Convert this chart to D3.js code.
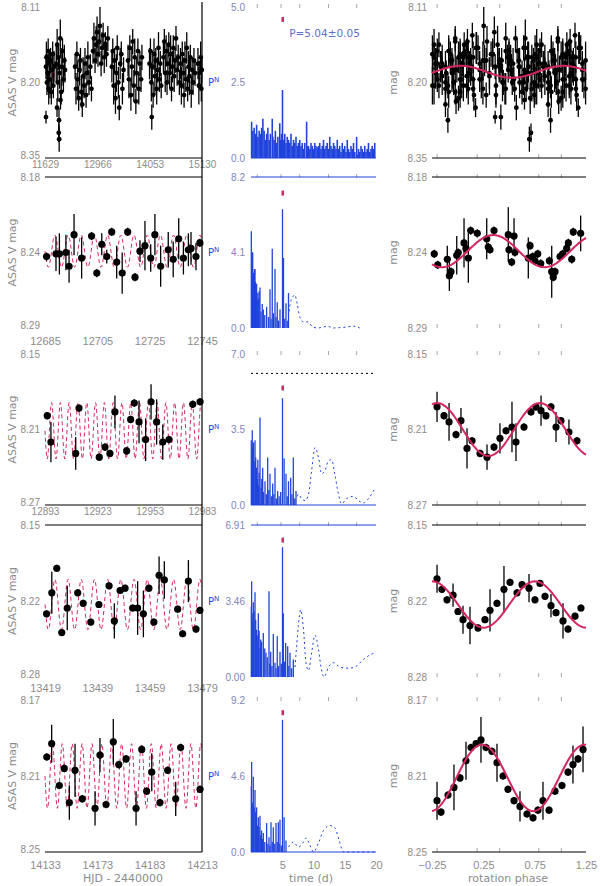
<!DOCTYPE html>
<html lang="en">
<head>
<meta charset="UTF-8">
<title>ASAS V light curves, periodograms and phase plots</title>
<script src="https://d3js.org/d3.v7.min.js"></script>
<style>
  body { margin: 0; background: #fff; }
  svg { display: block; font-family: "DejaVu Sans", sans-serif; }
  .lbl text, .lbl { fill: #8c8c8c; font-size: 10px; }
  .pglbl text { fill: #7d86b8; font-size: 10px; }
  .title { fill: #8c8c8c; font-size: 11px; }
</style>
</head>
<body>
<svg id="chart" width="600" height="886"></svg>
<script>
// ---- shared ----
const period = 5.04;
const foldEpoch = 11629;

// ---- light curves (HJD-2440000, V mag, error) ----
const lcDomX = [[11629, 15130], [12685, 12745], [12893, 12983], [13419, 13479], [14133, 14213]];
const lcXLabels = [
  ["11629", "12966", "14053", "15130"],
  ["12685", "12705", "12725", "12745"],
  ["12893", "12923", "12953", "12983"],
  ["13419", "13439", "13459", "13479"],
  ["14133", "14173", "14183", "14213"]
];
const magDom = [[8.11, 8.35], [8.18, 8.29], [8.15, 8.27], [8.15, 8.28], [8.17, 8.25]];
const magLabels = [
  ["8.11", "8.20", "8.35"],
  ["8.18", "8.24", "8.29"],
  ["8.15", "8.21", "8.27"],
  ["8.15", "8.22", "8.28"],
  ["8.17", "8.21", "8.25"]
];

const lc1 = [
  [11651,8.205,.02],[11660,8.190,.025],[11672,8.230,.02],[11690,8.215,.03],[11700,8.180,.02],[11712,8.240,.025],[11725,8.200,.02],
  [11740,8.225,.03],[11752,8.195,.02],[11770,8.245,.02],[11785,8.210,.025],[11800,8.185,.02],[11815,8.235,.02],[11830,8.205,.025],
  [11651,8.285,.01],[11897,8.270,.015],[11941,8.290,.02],[11935,8.310,.015],[11945,8.320,.02],[11975,8.258,.015],
  [11880,8.200,.03],[11900,8.170,.025],[11915,8.230,.03],[11930,8.190,.02],[11955,8.215,.025],[11970,8.160,.03],[11990,8.245,.02],
  [12005,8.205,.03],[12020,8.180,.02],[12040,8.225,.02],[12060,8.195,.025],[12075,8.210,.02],
  [12300,8.205,.02],[12320,8.240,.025],[12340,8.185,.02],[12360,8.225,.03],[12380,8.255,.02],[12400,8.210,.025],[12420,8.195,.02],
  [12440,8.245,.025],[12460,8.265,.02],[12480,8.220,.03],[12500,8.235,.02],[12520,8.200,.025],[12545,8.250,.02],[12565,8.215,.02],
  [12585,8.190,.025],[12610,8.230,.02],[12640,8.205,.02],[12665,8.240,.02],
  [12700,8.180,.02],[12720,8.160,.025],[12745,8.195,.02],[12770,8.170,.03],[12790,8.150,.025],[12810,8.185,.02],[12835,8.165,.025],
  [12855,8.140,.03],[12880,8.200,.02],[12900,8.175,.025],[12925,8.155,.02],[12950,8.190,.025],[12975,8.170,.02],[13000,8.185,.02],[13030,8.160,.02],
  [13120,8.205,.025],[13140,8.180,.02],[13160,8.235,.03],[13180,8.195,.02],[13200,8.255,.025],[13220,8.215,.03],[13240,8.175,.02],
  [13265,8.230,.025],[13285,8.270,.02],[13305,8.200,.025],[13330,8.185,.02],[13355,8.240,.025],[13380,8.210,.02],
  [13480,8.195,.025],[13500,8.225,.03],[13520,8.175,.02],[13545,8.250,.025],[13565,8.205,.03],[13585,8.165,.02],[13610,8.235,.025],
  [13630,8.190,.03],[13655,8.260,.02],[13675,8.215,.025],[13700,8.180,.02],[13720,8.240,.025],[13745,8.200,.02],[13770,8.225,.02],[13790,8.190,.02],
  [13960,8.200,.025],[13980,8.180,.02],[14000,8.230,.03],[14020,8.205,.025],[14040,8.250,.02],[14060,8.185,.025],[14080,8.220,.03],
  [14100,8.195,.02],[14120,8.240,.025],[14140,8.210,.02],[14160,8.175,.025],[14180,8.225,.02],[14200,8.200,.02],[14220,8.235,.02],[14010,8.285,.02],
  [14270,8.190,.025],[14290,8.165,.02],[14310,8.215,.03],[14330,8.180,.025],[14350,8.230,.02],[14370,8.200,.03],[14390,8.170,.02],
  [14410,8.215,.025],[14430,8.185,.03],[14450,8.240,.02],[14470,8.205,.025],[14490,8.175,.02],[14510,8.220,.025],[14530,8.195,.02],
  [14550,8.160,.02],[14575,8.210,.025],[14600,8.190,.02],[14625,8.230,.02],
  [14650,8.200,.025],[14670,8.235,.03],[14690,8.185,.02],[14710,8.215,.025],[14730,8.250,.02],[14750,8.195,.03],[14770,8.225,.02],
  [14790,8.175,.025],[14810,8.240,.02],[14830,8.205,.025],[14850,8.220,.03],[14870,8.190,.02],[14890,8.245,.025],[14910,8.210,.02],
  [14930,8.230,.02],[14950,8.195,.02],[14975,8.215,.02],
  [15040,8.200,.025],[15060,8.235,.03],[15080,8.215,.02],[15100,8.190,.025],[15115,8.240,.02],[15125,8.210,.02]
];
const lc2 = [
  [12685.6,8.238,.003],[12689.2,8.236,.0125],[12690.5,8.236,.015],[12693.0,8.235,.013],[12694.2,8.245,.012],[12696.1,8.222,.015],
  [12699.0,8.239,.015],[12702.8,8.223,.003],[12704.8,8.250,.003],[12706.7,8.229,.008],[12708.6,8.238,.005],[12710.5,8.220,.003],
  [12712.4,8.242,.012],[12714.5,8.250,.015],[12716.6,8.220,.003],[12719.4,8.253,.003],[12721.3,8.234,.008],[12723.2,8.230,.018],
  [12725.4,8.239,.01],[12727.0,8.222,.015],[12729.2,8.245,.015],[12732.1,8.233,.013],[12734.0,8.240,.013],[12736.1,8.225,.015],
  [12737.9,8.239,.012],[12739.8,8.233,.012],[12740.8,8.232,.012],[12742.7,8.238,.01],[12744.2,8.228,.003]
];
const lc3 = [
  [12894.3,8.199,.003],[12896.4,8.220,.016],[12910.6,8.229,.013],[12912.5,8.193,.003],[12924.1,8.232,.003],[12927.4,8.224,.003],
  [12930.2,8.229,.003],[12933.1,8.196,.013],[12939.8,8.227,.003],[12942.1,8.202,.003],[12944.2,8.189,.003],[12946.9,8.204,.017],
  [12950.7,8.218,.017],[12953.8,8.188,.014],[12957.0,8.204,.018],[12960.5,8.220,.014],[12964.1,8.218,.003],[12977.7,8.190,.003],
  [12981.9,8.188,.003]
];
const lc4 = [
  [13419.6,8.226,.003],[13421.6,8.208,.018],[13423.5,8.187,.003],[13425.4,8.242,.003],[13427.5,8.221,.019],[13431.5,8.208,.003],
  [13433.6,8.217,.003],[13436.5,8.233,.003],[13439.6,8.218,.003],[13443.5,8.202,.003],[13445.5,8.232,.015],[13447.7,8.206,.003],
  [13449.6,8.204,.003],[13452.5,8.221,.003],[13454.4,8.221,.023],[13456.6,8.226,.02],[13458.7,8.204,.003],[13460.6,8.233,.003],
  [13462.6,8.193,.016],[13464.6,8.197,.016],[13469.7,8.222,.003],[13471.6,8.243,.003],[13473.8,8.198,.018],[13476.7,8.239,.003],
  [13478.2,8.223,.003]
];
const lc5 = [
  [14133.9,8.200,.002],[14136.4,8.193,.010],[14140.3,8.215,.002],[14142.8,8.206,.002],[14145.4,8.224,.009],[14148.3,8.207,.014],
  [14152.0,8.222,.002],[14158.5,8.227,.009],[14161.0,8.199,.009],[14164.1,8.225,.002],[14167.8,8.192,.012],[14170.6,8.204,.002],
  [14174.3,8.201,.002],[14179.4,8.227,.009],[14182.3,8.196,.002],[14184.8,8.218,.002],[14187.4,8.208,.010],[14191.6,8.224,.002],
  [14195.5,8.207,.002],[14199.6,8.222,.009],[14202.1,8.195,.002],[14212.0,8.217,.002]
];
// sine fit drawn over the light curve: [mean mag, semi-amplitude, from, to]
const lcFit = [[8.213, 0.0095, 11790, 11830], [8.234, 0.0117, 12685, 12745], [8.211, 0.0224, 12893, 12983],
               [8.218, 0.0215, 13419, 13479], [8.210, 0.017, 14133, 14213]];
// gap between bottom axis and its labels, per row
const lcXPad = [3, 9, 3, 7, 9];

// ---- periodograms: [period (d), power] ----
const pgTop = [5.0, 8.2, 7.0, 6.91, 9.2];
const pgLabels = [["0.0", "2.5", "5.0"], ["0.0", "4.1", "8.2"], ["0.0", "3.5", "7.0"], ["0.00", "3.46", "6.91"], ["0.0", "4.6", "9.2"]];
const pgMarker = [4.57, 7.3, 5.4, 6.2, 8.4];
const pgTopTicks = [1, 4.8, 7.8, 12.4, 16.9];
const pgXTicks = [5, 10, 15, 20];

const pg1 = [
  [0.1,1.2],[0.3,0.9],[0.5,1.0],[0.7,0.8],[0.9,1.1],[1.1,0.7],[1.3,0.9],[1.5,0.8],[1.7,1.0],[1.9,1.3],[2.1,0.9],[2.3,0.6],
  [2.5,0.8],[2.7,1.0],[2.9,0.6],[3.1,0.8],[3.4,1.3],[3.5,0.7],[3.7,0.6],[3.9,0.9],[4.1,0.5],[4.3,0.7],[4.6,1.15],[4.75,0.6],
  [4.9,0.8],[5.04,2.25],[5.2,0.6],[5.4,0.8],[5.6,0.5],[5.8,0.7],[6.0,0.6],[6.2,0.5],[6.4,0.8],[6.6,0.4],[6.8,0.6],[7.0,0.5],
  [7.2,0.7],[7.4,0.4],[7.6,0.5],[7.8,0.6],[8.0,0.4],[8.2,0.5],[8.4,0.3],[8.6,0.5],[8.9,1.2],[9.0,0.4],[9.2,0.4],[9.4,0.3],
  [9.6,0.5],[9.8,0.4],[10.0,0.3],[10.2,0.5],[10.4,0.4],[10.6,0.35],[10.8,0.4],[11.0,0.5],[11.2,0.3],[11.4,0.4],[11.6,0.6],
  [11.8,0.3],[12.0,0.4],[12.2,0.5],[12.4,0.3],[12.6,0.7],[12.8,0.4],[13.0,0.3],[13.2,0.5],[13.4,0.4],[13.6,0.3],[13.8,0.6],
  [14.0,0.3],[14.2,0.4],[14.4,0.2],[14.6,0.5],[14.8,0.3],[15.0,0.4],[15.2,0.2],[15.4,0.6],[15.6,0.3],[15.8,0.2],[16.0,0.4],
  [16.2,0.3],[16.4,0.5],[16.6,0.2],[16.9,0.7],[17.0,0.1],[17.2,0.3],[17.4,0.2],[17.6,0.4],[17.8,0.3],[18.0,0.2],[18.2,0.4],
  [18.4,0.2],[18.6,0.3],[18.8,0.5],[19.0,0.2],[19.2,0.3],[19.4,0.4],[19.6,0.3],[19.8,0.5]
];
const pg2 = [
  [0.05,5.25],[0.1,2.8],[0.15,3.6],[0.2,4.1],[0.27,4.1],[0.33,2.2],[0.4,3.0],[0.47,1.9],[0.55,3.2],[0.64,3.2],[0.72,2.5],
  [0.8,1.8],[0.9,2.4],[1.0,1.5],[1.1,1.9],[1.2,1.6],[1.3,2.0],[1.44,2.2],[1.6,0.9],[1.8,1.3],[1.97,1.0],[2.2,0.7],[2.5,1.15],
  [2.8,0.6],[3.04,2.1],[3.2,0.5],[3.4,4.3],[3.6,0.8],[3.84,3.2],[4.0,0.6],[4.2,1.4],[4.4,0.4],[4.64,1.0],[5.04,6.45],[5.2,3.8],
  [5.4,0.5],[5.6,1.35],[5.8,0.4],[6.0,1.9]
];
const pg2c = [[6.1,0.9],[6.3,1.35],[6.7,1.7],[7.0,1.8],[7.4,1.3],[7.8,0.6],[8.4,0.33],[9.1,0.33],[9.9,0.05],[10.7,0.0],
  [11.5,0.05],[12.3,0.1],[13.1,0.0],[14.2,0.02],[15.3,0.05],[16.3,0.1],[17.4,0.0]];
const pg3 = [
  [0.05,3.0],[0.1,2.3],[0.2,3.46],[0.3,2.6],[0.4,2.9],[0.5,2.0],[0.64,3.0],[0.75,2.2],[0.9,1.73],[1.0,1.2],[1.1,2.1],[1.2,0.9],
  [1.3,1.5],[1.44,4.06],[1.6,0.8],[1.72,1.2],[1.87,1.73],[2.0,0.6],[2.24,1.1],[2.45,0.5],[2.67,2.2],[2.85,0.7],[3.04,1.45],
  [3.25,0.4],[3.47,1.0],[3.65,0.5],[3.84,1.73],[4.05,0.3],[4.27,0.65],[4.5,0.4],[4.75,0.6],[5.04,4.95],[5.3,2.15],[5.6,1.45],
  [5.8,0.4],[6.0,1.1],[6.35,1.26],[6.55,0.5],[6.77,2.2],[7.0,0.3],[7.2,0.65]
];
const pg3c = [[7.4,0.4],[7.57,0.5],[8.1,0.3],[8.64,0.2],[9.2,0.5],[9.7,1.6],[10.24,2.66],[10.8,2.2],[11.3,1.45],[11.84,1.6],
  [12.4,2.05],[12.9,2.1],[13.4,1.45],[14.0,0.5],[14.5,0.05],[15.3,0.3],[16.4,0.4],[17.2,0.2],[18.0,0.1],[18.8,0.3],[19.8,0.75]];
const pg3Level = 6.1;
const pg4 = [
  [0.05,3.2],[0.1,4.35],[0.2,2.5],[0.3,2.9],[0.37,3.4],[0.5,3.0],[0.64,3.85],[0.75,2.6],[0.9,2.15],[1.0,1.9],[1.17,2.9],
  [1.3,2.1],[1.45,1.3],[1.55,1.7],[1.7,1.6],[1.97,2.0],[2.2,1.3],[2.4,1.1],[2.6,0.9],[2.88,3.9],[3.0,0.6],[3.15,1.15],
  [3.35,0.5],[3.57,1.95],[3.84,0.65],[4.0,0.4],[4.2,1.85],[4.4,0.5],[4.64,1.15],[4.85,0.6],[5.04,5.9],[5.17,2.9],[5.35,0.7],
  [5.55,1.55],[5.87,1.4],[6.05,0.5],[6.24,1.1],[6.5,0.4],[6.77,0.8]
];
const pg4c = [[7.04,0.45],[7.3,1.4],[7.57,2.3],[7.95,3.05],[8.4,2.15],[8.8,0.65],[9.2,0.3],[9.7,1.1],[10.24,1.9],[10.8,1.25],
  [11.2,0.45],[11.7,0.0],[12.4,0.45],[13.2,0.65],[14.24,0.45],[15.6,0.4],[16.6,0.45],[18.0,0.8],[19.0,1.0],[19.8,1.1]];
const pg5 = [
  [0.05,4.0],[0.1,5.45],[0.2,3.0],[0.3,2.7],[0.37,4.55],[0.5,2.7],[0.64,3.75],[0.75,2.4],[0.9,2.7],[1.05,1.6],[1.17,2.1],
  [1.3,1.5],[1.44,2.2],[1.55,1.0],[1.7,1.3],[1.85,0.8],[1.97,1.15],[2.2,0.6],[2.5,1.75],[2.7,0.5],[2.88,0.9],[3.05,0.4],
  [3.2,1.8],[3.4,0.6],[3.57,1.5],[3.8,0.5],[4.0,1.75],[4.2,0.6],[4.37,1.8],[4.5,0.5],[4.64,1.95],[4.85,0.4],[5.04,8.0],
  [5.3,2.1],[5.6,0.7]
];
const pg5c = [[6.0,0.3],[6.8,0.6],[7.6,0.3],[8.3,0.55],[8.8,0.85],[9.44,0.4],[10.0,0.0],[10.8,0.55],[11.6,1.3],[12.64,1.6],
  [13.44,1.45],[14.1,0.7],[14.8,0.0],[16.4,0.0],[19.8,0.0]];

// ---- phase plots: [rotation phase, V mag, error] ----
const phXTicks = [-0.25, 0.25, 0.75, 1.25];
const phTopTicks = [-0.2, 0.19, 0.41, 0.79, 1.01];
// sine fit: [mean mag, semi-amplitude, phase of maximum light]
const phFit = [[8.213, 0.0095, 0.03], [8.234, 0.0117, 0.347], [8.210, 0.021, 0.80], [8.218, 0.0198, 0.753], [8.211, 0.0175, 0.237]];
const ph2 = [
  [-0.228,8.236,.003],[-0.194,8.244,.003],[-0.101,8.240,.01],[-0.081,8.252,.011],[-0.065,8.249,.003],[-0.009,8.237,.014],
  [0.006,8.235,.003],[0.062,8.228,.018],[0.081,8.232,.003],[0.104,8.239,.018],[0.127,8.219,.003],[0.191,8.221,.003],
  [0.283,8.225,.015],[0.298,8.231,.003],[0.315,8.233,.003],[0.354,8.219,.003],[0.493,8.222,.02],[0.500,8.233,.003],
  [0.526,8.242,.003],[0.549,8.223,.013],[0.558,8.235,.003],[0.688,8.239,.015],[0.705,8.230,.003],[0.731,8.238,.003],
  [0.753,8.241,.003],[0.780,8.236,.003],[0.809,8.243,.003],[0.893,8.241,.003],[0.916,8.249,.019],[0.931,8.253,.003],
  [0.948,8.249,.003],[0.997,8.238,.003],[1.023,8.236,.003],[1.062,8.232,.003],[1.078,8.228,.003],[1.111,8.240,.003],
  [1.126,8.220,.003],[1.198,8.221,.013]
];
const ph3 = [
  [-0.201,8.192,.012],[-0.133,8.199,.003],[-0.084,8.204,.015],[-0.016,8.214,.003],[0.032,8.203,.01],[0.091,8.225,.016],
  [0.140,8.219,.003],[0.218,8.229,.003],[0.286,8.232,.01],[0.354,8.224,.003],[0.412,8.217,.012],[0.471,8.211,.003],
  [0.529,8.208,.02],[0.568,8.220,.015],[0.646,8.208,.003],[0.714,8.196,.003],[0.763,8.192,.003],[0.812,8.195,.012],
  [0.860,8.199,.003],[0.909,8.192,.003],[0.958,8.208,.012],[1.006,8.203,.003],[1.084,8.212,.01],[1.162,8.219,.003]
];
const ph4 = [
  [-0.201,8.196,.012],[-0.153,8.205,.003],[-0.104,8.214,.003],[-0.045,8.210,.01],[0.003,8.224,.003],[0.052,8.231,.012],
  [0.120,8.236,.016],[0.198,8.238,.003],[0.266,8.231,.003],[0.315,8.223,.018],[0.383,8.217,.003],[0.451,8.205,.02],
  [0.510,8.199,.003],[0.578,8.208,.003],[0.627,8.201,.003],[0.695,8.204,.012],[0.753,8.214,.003],[0.802,8.200,.003],
  [0.851,8.211,.003],[0.909,8.219,.01],[0.958,8.225,.003],[1.026,8.232,.015],[1.075,8.239,.003],[1.143,8.228,.003],
  [1.201,8.221,.003]
];
const ph5 = [
  [-0.201,8.223,.01],[-0.162,8.229,.002],[-0.094,8.220,.002],[-0.036,8.216,.012],[0.023,8.211,.002],[0.081,8.202,.01],
  [0.130,8.195,.002],[0.179,8.193,.002],[0.227,8.191,.012],[0.276,8.195,.002],[0.334,8.197,.002],[0.383,8.203,.01],
  [0.442,8.210,.002],[0.490,8.217,.002],[0.549,8.223,.002],[0.607,8.226,.008],[0.675,8.230,.002],[0.734,8.232,.002],
  [0.782,8.228,.002],[0.831,8.223,.01],[0.890,8.228,.002],[0.948,8.218,.002],[1.016,8.215,.002],[1.075,8.208,.002],
  [1.123,8.204,.01],[1.172,8.201,.002],[1.221,8.196,.012]
];

// ---- layout ----
const rowY = [[7, 158], [177, 328], [354, 505], [525, 677], [700, 852]];
const lcX = [45, 202], pgX = [251, 376], phX = [432, 586];
const BLUE = "#2143dc", RED = "#d4265e";

const svg = d3.select("#chart");

// row 1 phase plot is the folded long-term light curve
function fold(pts) {
  const out = [];
  pts.forEach(([t, m, e]) => {
    const ph = (((t - foldEpoch) / period) % 1 + 1) % 1;
    [ph - 1, ph, ph + 1].forEach(p => { if (p >= -0.25 && p <= 1.25) out.push([p, m, e]); });
  });
  return out;
}

const lcData = [lc1, lc2, lc3, lc4, lc5];
const pgData = [pg1, pg2, pg3, pg4, pg5];
const pgCurves = [null, pg2c, pg3c, pg4c, pg5c];
const phData = [fold(lc1), ph2, ph3, ph4, ph5];

function leftAxis(g, scale, vals, labels, pad, cls) {
  g.attr("class", cls)
    .call(d3.axisLeft(scale).tickValues(vals).tickFormat((d, i) => labels[i]).tickSize(0).tickPadding(pad))
    .call(a => a.select(".domain").remove());
  return g;
}

function drawPoints(g, pts, x, y, r) {
  g.selectAll(".err").data(pts).join("line")
    .attr("x1", d => x(d[0])).attr("x2", d => x(d[0]))
    .attr("y1", d => y(d[1] - d[2])).attr("y2", d => y(d[1] + d[2]))
    .attr("stroke", "#000").attr("stroke-width", 1.3);
  g.selectAll(".pt").data(pts).join("circle")
    .attr("cx", d => x(d[0])).attr("cy", d => y(d[1])).attr("r", r).attr("fill", "#000");
}

rowY.forEach(([y0, y1], i) => {
  const odd = i % 2 === 0;
  const lineY = odd ? y1 : y0;
  const dense = i === 0;

  // ---------- light curve ----------
  const xL = d3.scaleLinear().domain(lcDomX[i]).range(lcX);
  const yL = d3.scaleLinear().domain(magDom[i]).range([y0, y1]);
  const mTicks = [0, 0.5, 1].map(f => magDom[i][0] + f * (magDom[i][1] - magDom[i][0]));
  const tTicks = [0, 1, 2, 3].map(f => lcDomX[i][0] + f / 3 * (lcDomX[i][1] - lcDomX[i][0]));

  const gL = svg.append("g");
  const [m0, amp, from, to] = lcFit[i];
  const fitT = d3.range(from, to + 0.001, period / 24);
  gL.append("path")
    .datum(fitT)
    .attr("d", d3.line().x(t => xL(t)).y(t => yL(m0 + amp * Math.sin(2 * Math.PI * (t - from) / period))))
    .attr("fill", "none").attr("stroke", RED).attr("stroke-width", 1).attr("stroke-dasharray", "4,3");
  drawPoints(gL, lcData[i], xL, yL, dense ? 2.4 : 3.6);

  leftAxis(svg.append("g").attr("transform", `translate(${lcX[0]},0)`), yL, mTicks, magLabels[i], 5, "lbl")
    .selectAll(".tick text").filter((d, k) => k === 2).attr("dy", "0.02em");
  svg.append("g").attr("class", "lbl").attr("transform", `translate(0,${y1})`)
    .call(d3.axisBottom(xL).tickValues(tTicks).tickFormat((d, k) => lcXLabels[i][k]).tickSize(0).tickPadding(lcXPad[i]))
    .call(a => a.select(".domain").remove())
    .selectAll("text").style("font-size", i === 0 || i === 2 ? "10px" : "11px");
  svg.append("line").attr("x1", lcX[0]).attr("x2", lcX[1]).attr("y1", lineY).attr("y2", lineY)
    .attr("stroke", "#000").attr("stroke-width", 1.2);
  svg.append("text").attr("class", "title")
    .attr("transform", `translate(12,${(y0 + y1) / 2}) rotate(-90)`)
    .attr("text-anchor", "middle").attr("dy", "0.35em").text("ASAS V mag");

  // ---------- periodogram ----------
  const xP = d3.scaleLinear().domain([0, 20]).range(pgX);
  const yP = d3.scaleLinear().domain([0, pgTop[i]]).range([y1, y0]);
  const gP = svg.append("g");
  gP.selectAll("line").data(pgData[i]).join("line")
    .attr("x1", d => xP(d[0])).attr("x2", d => xP(d[0]))
    .attr("y1", yP(0)).attr("y2", d => yP(d[1]))
    .attr("stroke", BLUE).attr("stroke-width", dense ? 1.6 : 1.3);
  if (pgCurves[i]) {
    gP.append("path").datum(pgCurves[i])
      .attr("d", d3.line().x(d => xP(d[0])).y(d => yP(d[1])).curve(d3.curveMonotoneX))
      .attr("fill", "none").attr("stroke", BLUE).attr("stroke-width", 1).attr("stroke-dasharray", "2,3");
  }
  if (i === 2) {
    gP.append("line").attr("x1", pgX[0]).attr("x2", pgX[1]).attr("y1", yP(pg3Level)).attr("y2", yP(pg3Level))
      .attr("stroke", "#000").attr("stroke-width", 1).attr("stroke-dasharray", "2,3");
  }
  gP.append("rect").attr("x", xP(period) - 1).attr("y", yP(pgMarker[i]) - 3).attr("width", 2.5).attr("height", 5)
    .attr("fill", RED);
  gP.selectAll(".tt").data(pgTopTicks).join("line")
    .attr("x1", d => xP(d)).attr("x2", d => xP(d)).attr("y1", y0 - 3).attr("y2", y0 + 1)
    .attr("stroke", "#aaa").attr("stroke-width", 1);
  leftAxis(svg.append("g").attr("transform", `translate(${pgX[0]},0)`), yP,
    [0, pgTop[i] / 2, pgTop[i]], pgLabels[i], 6, "pglbl");
  const pn = svg.append("text").attr("x", 208).attr("y", yP(pgTop[i] / 2)).attr("dy", "0.35em")
    .attr("fill", BLUE).style("font-size", "10px");
  pn.append("tspan").text("P");
  pn.append("tspan").attr("dy", "-4").style("font-size", "7px").text("N");
  svg.append("line").attr("x1", pgX[0]).attr("x2", pgX[1]).attr("y1", lineY).attr("y2", lineY)
    .attr("stroke", BLUE).attr("stroke-width", 1.2);

  // ---------- phase plot ----------
  const xH = d3.scaleLinear().domain([-0.25, 1.25]).range(phX);
  const yH = d3.scaleLinear().domain(magDom[i]).range([y0, y1]);
  const gH = svg.append("g");
  drawPoints(gH, phData[i], xH, yH, dense ? 2.4 : 3.6);
  const [pm, pa, pmax] = phFit[i];
  gH.append("path").datum(d3.range(-0.25, 1.2501, 0.01))
    .attr("d", d3.line().x(p => xH(p)).y(p => yH(pm - pa * Math.cos(2 * Math.PI * (p - pmax)))))
    .attr("fill", "none").attr("stroke", RED).attr("stroke-width", 2);
  [y0, y1].forEach((yy, k) => {
    gH.selectAll(".tk" + k).data(phTopTicks).join("line")
      .attr("x1", d => xH(d)).attr("x2", d => xH(d))
      .attr("y1", k === 0 ? yy - 3 : yy - 4).attr("y2", k === 0 ? yy + 1 : yy)
      .attr("stroke", "#aaa").attr("stroke-width", 1);
  });
  leftAxis(svg.append("g").attr("transform", `translate(${phX[0]},0)`), yH, mTicks, magLabels[i], 5, "lbl");
  svg.append("line").attr("x1", phX[0]).attr("x2", phX[1]).attr("y1", lineY).attr("y2", lineY)
    .attr("stroke", "#000").attr("stroke-width", 1.2);
  svg.append("text").attr("class", "title")
    .attr("transform", `translate(393,${(y0 + y1) / 2}) rotate(-90)`)
    .attr("text-anchor", "middle").attr("dy", "0.35em").text("mag");

  if (i === 0) {
    svg.append("text").attr("x", xP(6.1)).attr("y", y0 + 30).attr("fill", "#5f6fc8")
      .style("font-size", "10.5px").text("P=5.04±0.05");
  }
  if (i === 4) {
    svg.append("g").attr("class", "lbl").attr("transform", `translate(0,${y1})`)
      .call(d3.axisBottom(xP).tickValues(pgXTicks).tickSize(0).tickPadding(9))
      .call(a => a.select(".domain").remove())
      .selectAll("text").style("font-size", "11px");
    svg.append("g").attr("class", "lbl").attr("transform", `translate(0,${y1})`)
      .call(d3.axisBottom(xH).tickValues(phXTicks).tickFormat(d3.format(".2f")).tickSize(0).tickPadding(9))
      .call(a => a.select(".domain").remove())
      .selectAll("text").style("font-size", "11px");
    svg.append("text").attr("class", "title").attr("x", 123).attr("y", 882).attr("text-anchor", "middle").text("HJD - 2440000");
    svg.append("text").attr("class", "title").attr("x", 311).attr("y", 882).attr("text-anchor", "middle").text("time (d)");
    svg.append("text").attr("class", "title").attr("x", 508).attr("y", 882).attr("text-anchor", "middle").text("rotation phase");
  }
});

// right frame of the light-curve column
svg.append("line").attr("x1", lcX[1]).attr("x2", lcX[1]).attr("y1", 2).attr("y2", rowY[4][1])
  .attr("stroke", "#000").attr("stroke-width", 1.2);
</script>
</body>
</html>
